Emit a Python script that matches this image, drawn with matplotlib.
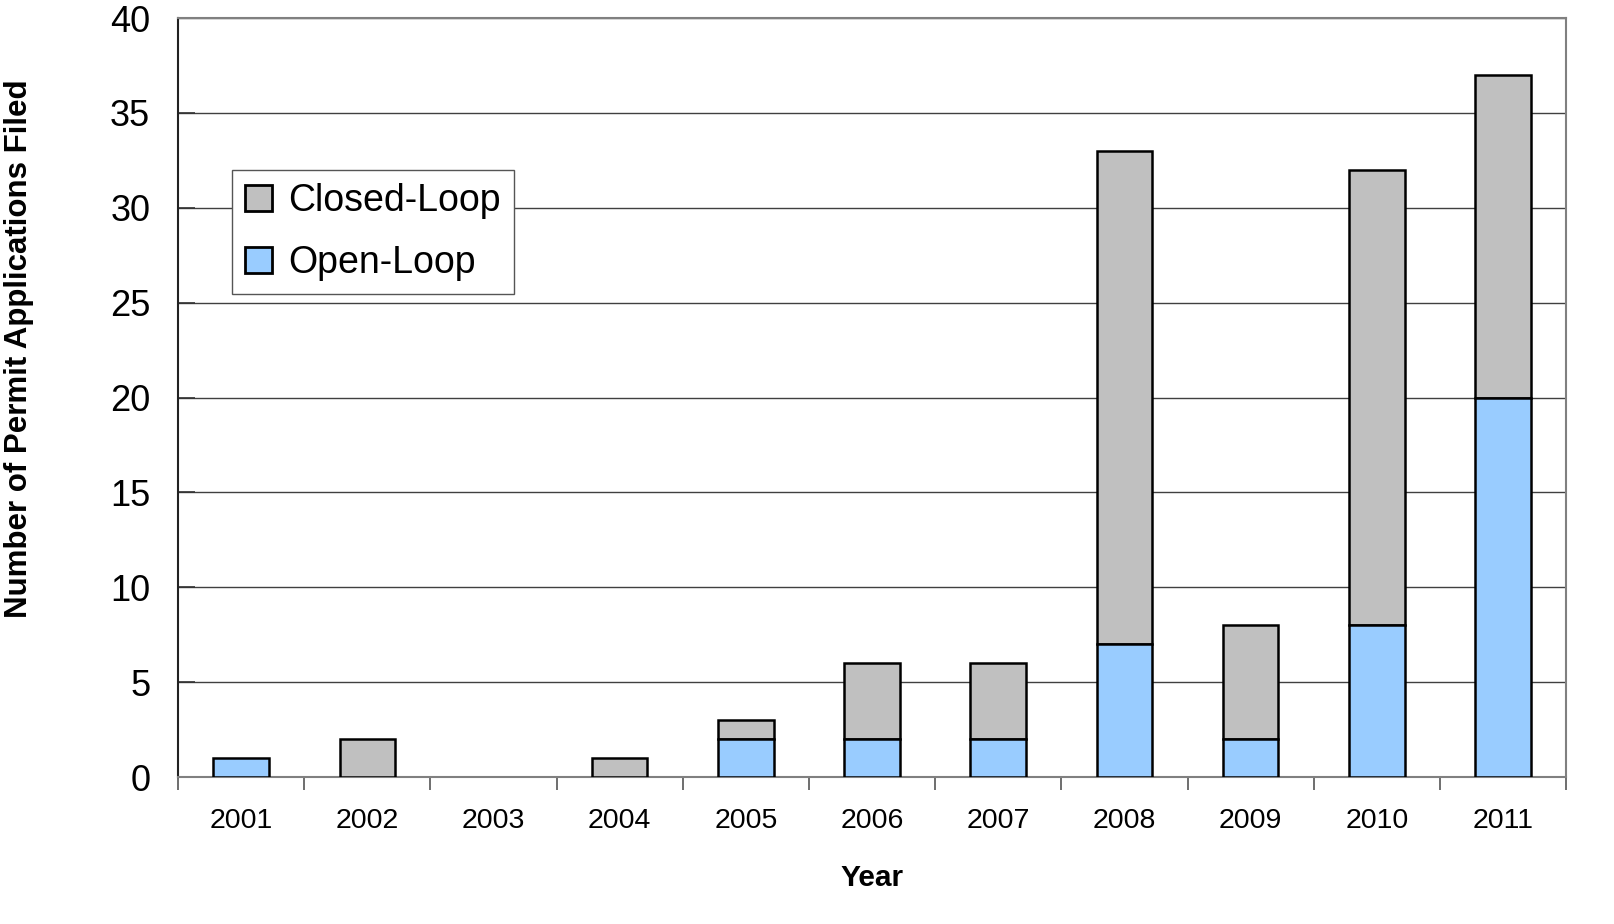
import numpy as np
import matplotlib
matplotlib.use("Agg")
import matplotlib.pyplot as plt

plt.rcParams['font.family'] = ['Liberation Sans', 'DejaVu Sans']

# Datos
years = ['2001', '2002', '2003', '2004', '2005', '2006', '2007', '2008', '2009', '2010', '2011']
open_loop = [1, 0, 0, 0, 2, 2, 2, 7, 2, 8, 20]
closed_loop = [0, 2, 0, 1, 1, 4, 4, 26, 6, 24, 17]

gris = '#C0C0C0'
azul = '#99CCFF'

fig = plt.figure(figsize=(16.14, 9.24), dpi=100)
ax = fig.add_axes([0.1103, 0.159, 0.86, 0.8215])

x = np.arange(len(years))
ol = np.array(open_loop)
cl = np.array(closed_loop)
ancho = 0.44

# solo barras con valor distinto de cero
m_cl = cl > 0
m_ol = ol > 0
ax.bar(x[m_cl], cl[m_cl], ancho, bottom=ol[m_cl], color=gris, edgecolor='black',
       linewidth=1.8, label='Closed-Loop', zorder=3)
ax.bar(x[m_ol], ol[m_ol], ancho, color=azul, edgecolor='black',
       linewidth=1.8, label='Open-Loop', zorder=3)

ax.set_xlim(-0.5, len(years) - 0.5)
ax.set_ylim(0, 40)
ax.set_yticks(range(0, 41, 5))
ax.yaxis.grid(True, color='#404040', linewidth=1.0, zorder=0)
ax.tick_params(axis='y', direction='in', length=12, width=1.2, color='#333333',
               labelsize=26, pad=20)

# marcas del eje x entre categorías
ax.set_xticks(np.arange(-0.5, len(years)), minor=False)
ax.set_xticklabels([])
ax.set_xticks(x, minor=True)
ax.set_xticklabels(years, minor=True)
ax.tick_params(axis='x', which='major', direction='out', length=9, width=1.2, color='#555555')
ax.tick_params(axis='x', which='minor', length=0, labelsize=20.5, pad=22)

for lado in ['top', 'right', 'bottom']:
    ax.spines[lado].set_color('#808080')
    ax.spines[lado].set_linewidth(1.5)
ax.spines['left'].set_color('#222222')
ax.spines['left'].set_linewidth(1.5)

ax.set_xlabel('Year', fontsize=21.5, fontweight='bold', labelpad=22)
ax.set_ylabel('Number of Permit Applications Filed', fontsize=22.5, fontweight='bold')
ax.yaxis.set_label_coords(-0.1035, 0.565)

leg = ax.legend(loc='upper left', bbox_to_anchor=(0.039, 0.80), fontsize=27,
                frameon=True, fancybox=False, edgecolor='#555555', framealpha=1,
                handlelength=0.7, handleheight=0.7, handletextpad=0.45,
                labelspacing=0.7, borderpad=0.35, borderaxespad=0)
leg.get_frame().set_linewidth(1.0)
leg.set_zorder(5)
for h in leg.legend_handles:
    h.set_linewidth(2.0)

fig.savefig('out.png', dpi=100)
